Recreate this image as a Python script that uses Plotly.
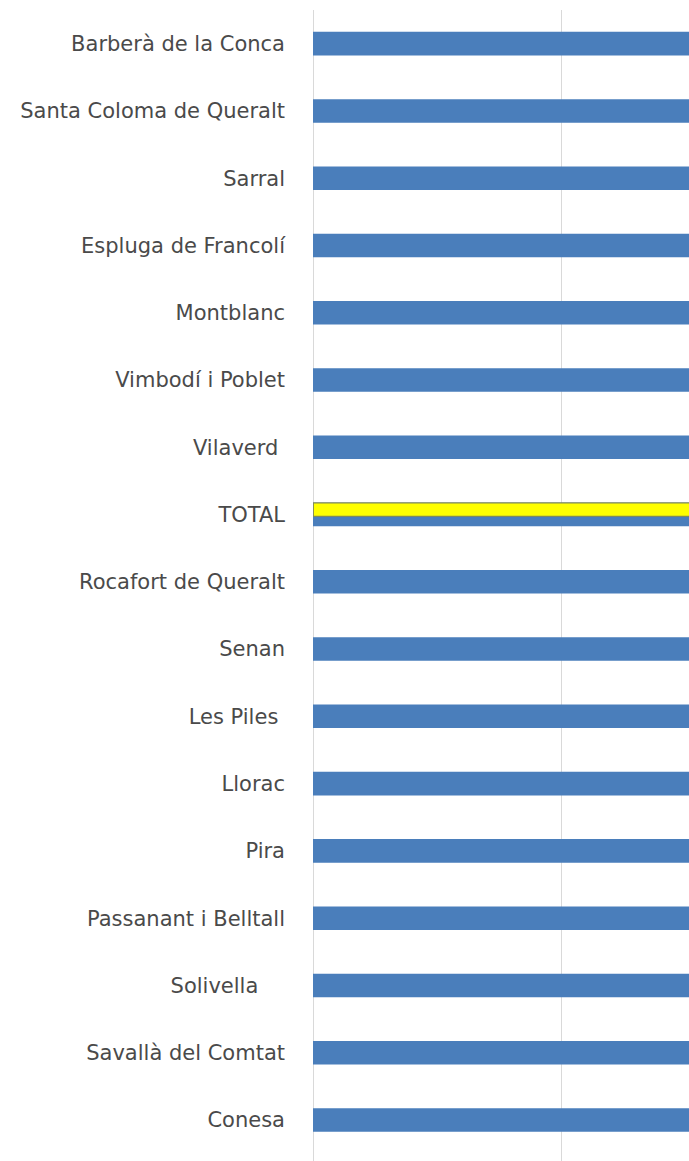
import plotly.graph_objects as go

municipis = [
    "Barberà de la Conca", "Santa Coloma de Queralt", "Sarral",
    "Espluga de Francolí", "Montblanc", "Vimbodí i Poblet", "Vilaverd ",
    "TOTAL", "Rocafort de Queralt", "Senan", "Les Piles ", "Llorac",
    "Pira", "Passanant i Belltall", "Solivella    ", "Savallà del Comtat",
    "Conesa",
]
valors = [48.5, 46.2, 44.0, 42.7, 41.3, 39.8, 38.6, 37.4, 36.1, 34.9,
          33.5, 32.2, 30.8, 29.4, 27.9, 26.3, 24.6]
total_label = "TOTAL"
total_valor = valors[municipis.index(total_label)]

fig = go.Figure()
fig.add_trace(go.Bar(
    y=municipis, x=valors, orientation="h",
    marker=dict(color="#4a7ebb", line=dict(width=0)),
    width=0.35, offset=-0.175, showlegend=False, hoverinfo="x+y",
))
fig.add_trace(go.Bar(
    y=[total_label], x=[total_valor], orientation="h",
    base=[0.012],
    marker=dict(color="#ffff00", line=dict(color="#7f8a5c", width=1.2)),
    width=0.2, offset=-0.172, showlegend=False, hoverinfo="x+y",
))

fig.update_layout(
    width=689, height=1161,
    margin=dict(l=313, r=0, t=10, b=0),
    barmode="overlay",
    plot_bgcolor="white", paper_bgcolor="white",
    font=dict(family="DejaVu Sans", size=21, color="#4a4a4a"),
    xaxis=dict(range=[0, 15.16], dtick=10, showticklabels=False,
               showgrid=True, gridcolor="#d9d9d9", gridwidth=1,
               zeroline=True, zerolinecolor="#d9d9d9", zerolinewidth=1,
               showline=False, fixedrange=True),
    yaxis=dict(type="category", categoryorder="array", categoryarray=municipis,
               range=[16.61, -0.5], showgrid=False, zeroline=False,
               showline=False, ticks="", ticklabelstandoff=27,
               tickfont=dict(family="DejaVu Sans", size=21, color="#4a4a4a")),
)

fig.write_html("out.html", config={"displayModeBar": False},
               post_script="document.body.style.margin='0';document.body.style.padding='0';")
